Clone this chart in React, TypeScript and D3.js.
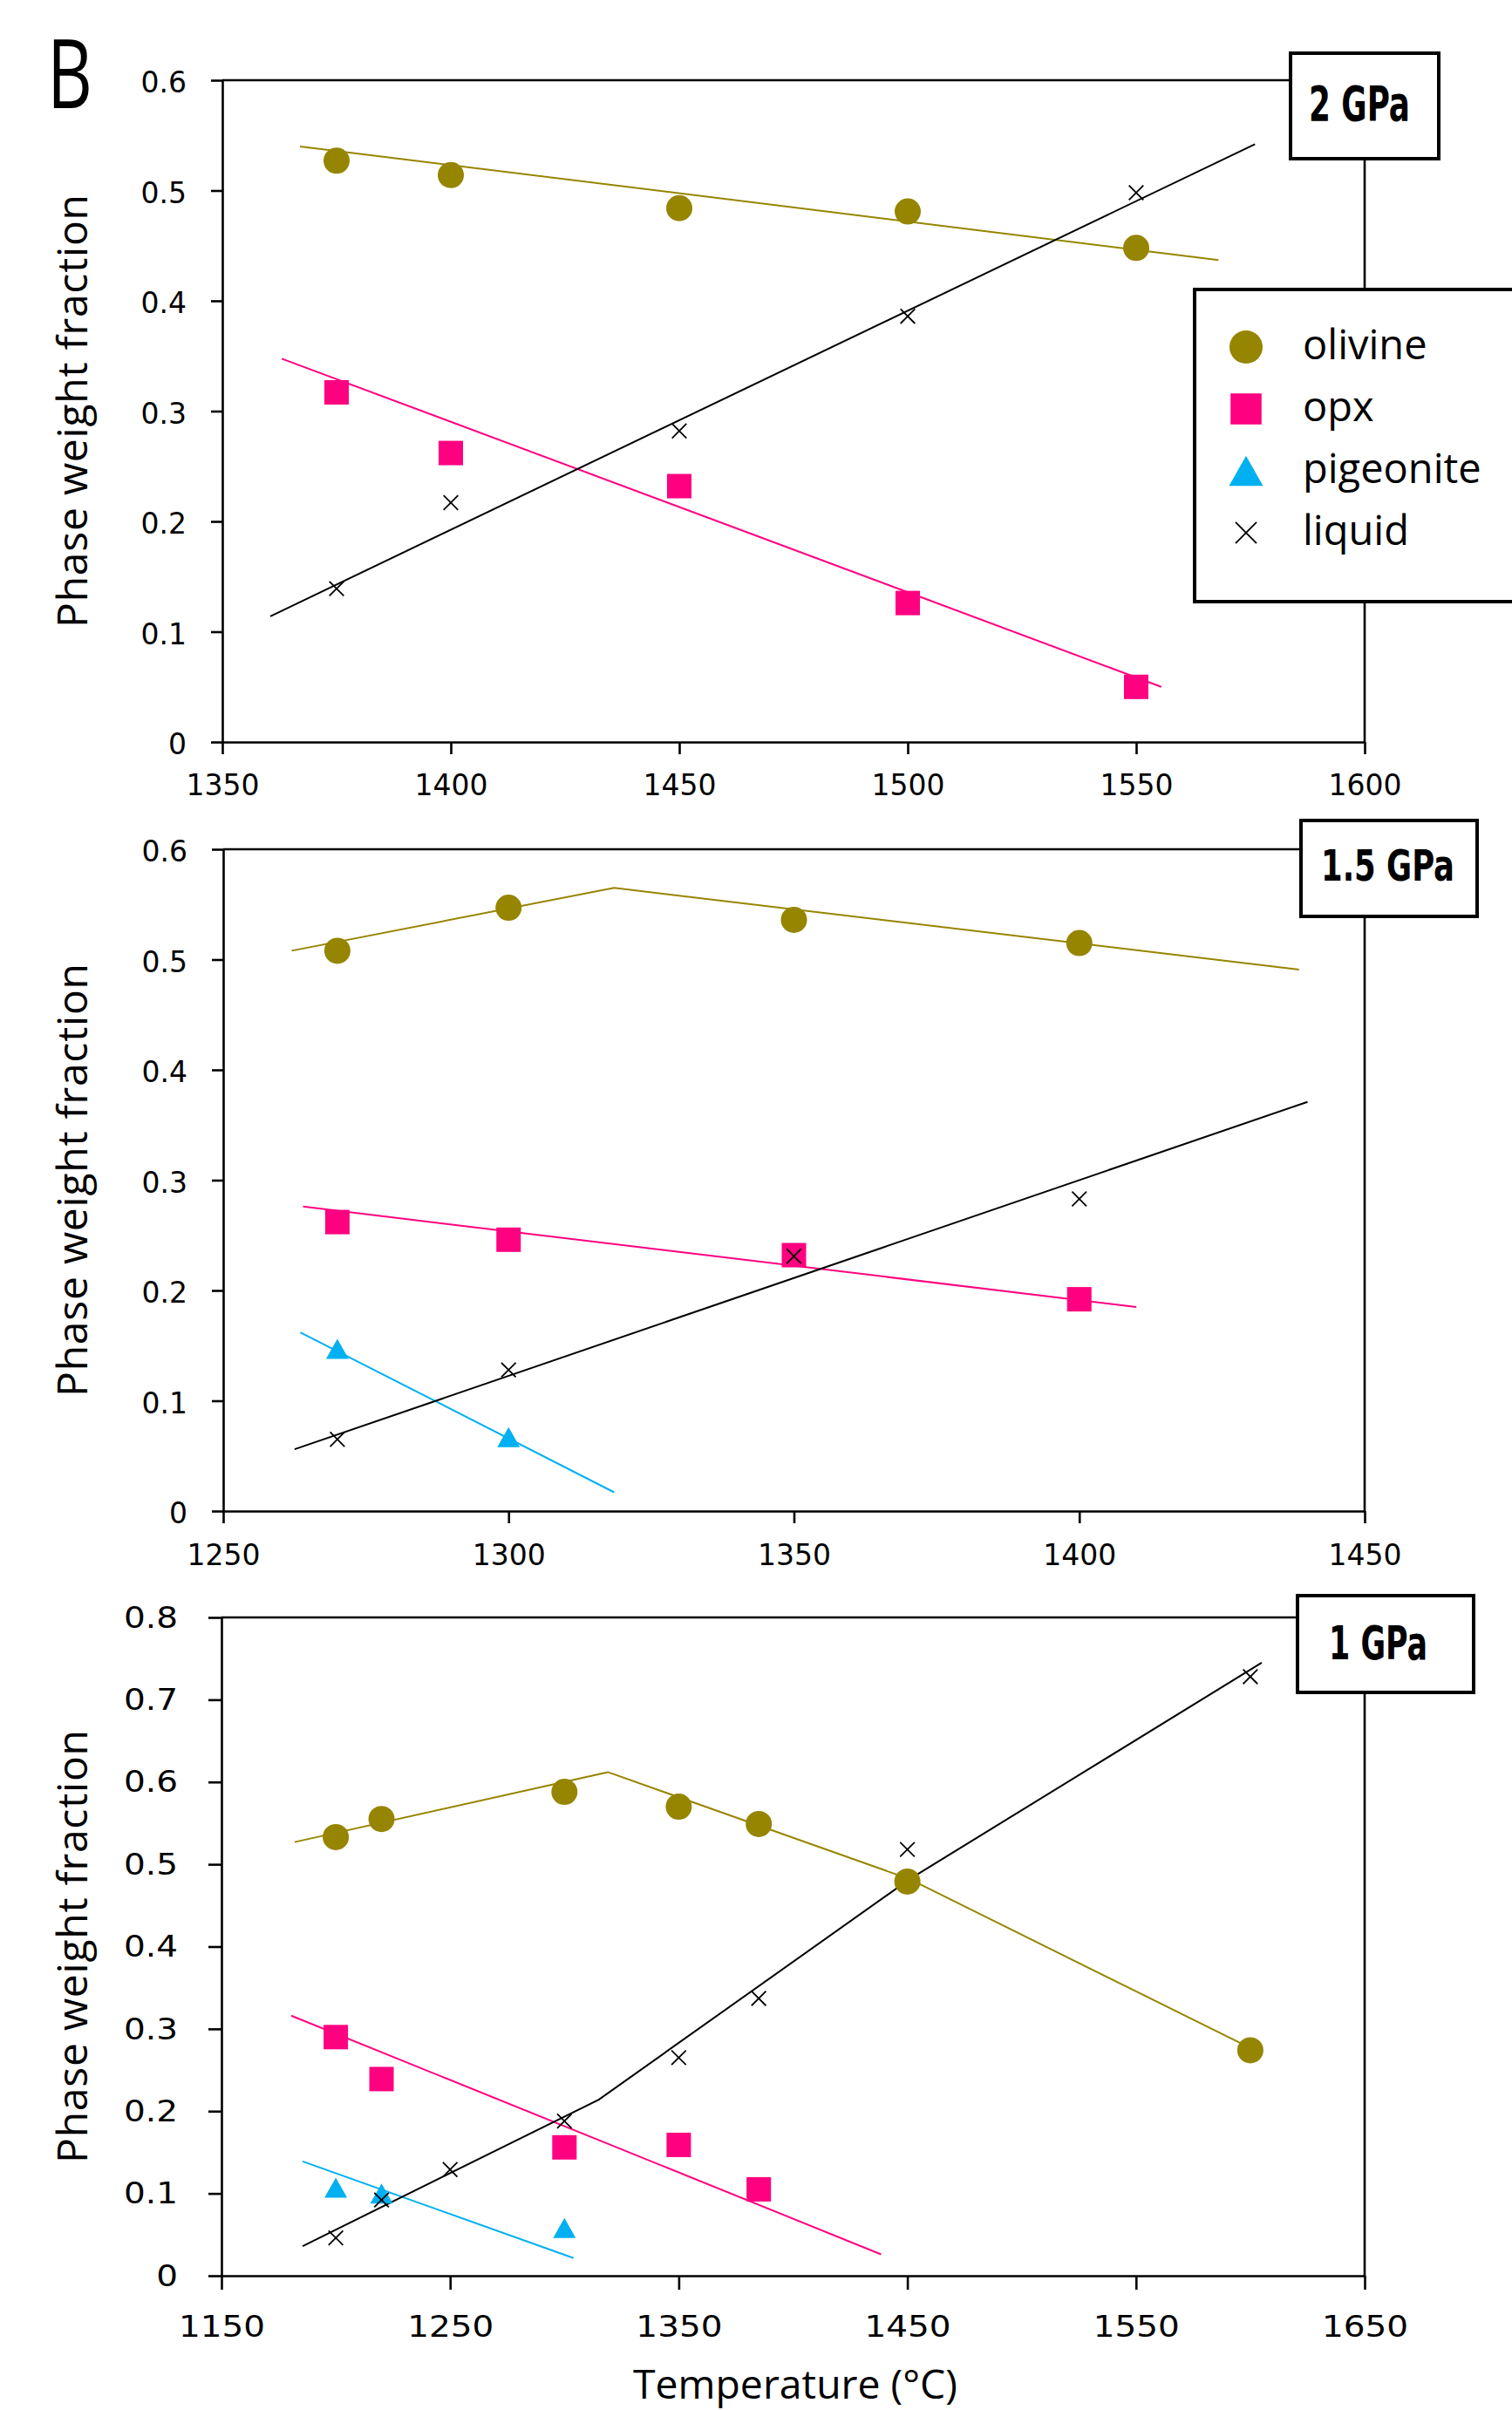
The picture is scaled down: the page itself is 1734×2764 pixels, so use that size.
import * as React from 'react';
import * as d3 from 'd3';

// ---- data ----
// 2 GPa
const temps2 = [1375, 1400, 1450, 1500, 1550];
const olivine2 = [0.527, 0.514, 0.484, 0.481, 0.448];
const opx2 = [0.317, 0.262, 0.232, 0.126, 0.050];
const liquid2 = [0.139, 0.217, 0.282, 0.386, 0.498];
const olivineFit2 = [[1367, 0.540], [1568, 0.437]];
const opxFit2 = [[1363, 0.3475], [1555.5, 0.050]];
const liquidFit2 = [[1360.5, 0.114], [1576, 0.542]];

// 1.5 GPa
const temps15 = [1270, 1300, 1350, 1400];
const olivine15 = [0.508, 0.547, 0.536, 0.515];
const opx15 = [0.262, 0.246, 0.232, 0.192];
const pigTemps15 = [1270, 1300];
const pigeonite15 = [0.147, 0.067];
const liquid15 = [0.065, 0.128, 0.231, 0.283];
const olivineFit15 = [[1262, 0.508], [1318.5, 0.565], [1438.5, 0.491]];
const opxFit15 = [[1264, 0.276], [1410, 0.185]];
const pigeoniteFit15 = [[1263.5, 0.162], [1318.5, 0.017]];
const liquidFit15 = [[1262.5, 0.056], [1440, 0.371]];

// 1 GPa
const olTemps1 = [1200, 1220, 1300, 1350, 1385, 1450, 1600];
const olivine1 = [0.533, 0.555, 0.588, 0.570, 0.549, 0.479, 0.274];
const opxTemps1 = [1200, 1220, 1300, 1350, 1385];
const opx1 = [0.290, 0.239, 0.156, 0.159, 0.105];
const pigTemps1 = [1200, 1220, 1300];
const pigeonite1 = [0.107, 0.100, 0.058];
const liqTemps1 = [1200, 1220, 1250, 1300, 1350, 1385, 1450, 1600];
const liquid1 = [0.046, 0.092, 0.129, 0.188, 0.265, 0.337, 0.518, 0.728];
const olivineFit1 = [[1182, 0.527], [1319, 0.612], [1451, 0.482], [1602, 0.274]];
const opxFit1 = [[1180.5, 0.316], [1438.5, 0.026]];
const pigeoniteFit1 = [[1185.5, 0.139], [1304, 0.0215]];
const liquidFit1 = [[1185.5, 0.036], [1315, 0.214], [1451, 0.482], [1605, 0.745]];

const phaseNames = ['olivine', 'opx', 'pigeonite', 'liquid'];

// ---- styles ----
const W = 1734;
const H = 2764;
const OLIVINE = '#968500';
const OPX = '#ff0080';
const PIG = '#00b0f0';
const colors: Record<string, string> = { olivine: OLIVINE, opx: OPX, pigeonite: PIG, liquid: '#000' };
const tickFont = '"DejaVu Sans", Verdana, sans-serif';
const textFont = '"Open Sans", "Noto Sans", sans-serif';
const boldFont = '"Liberation Sans Narrow", "DejaVu Sans Condensed", "Liberation Sans", sans-serif';

interface Series { phase: string; temps: number[]; values: number[]; fit: number[][] }

const panels = [
  {
    label: '2 GPa', frame: { left: 255, right: 1565, top: 92, bottom: 851 },
    xDomain: [1350, 1600], xStep: 50, yMax: 0.6,
    box: { x0: 1480, x1: 1650, y0: 61, y1: 182 }, labelPos: { x: 1501, y: 138, len: 116, size: 56 },
    stretch: 1, xTick: 14, xPad: 24, yTick: 13, yPad: 28,
    series: [
      { phase: 'olivine', temps: temps2, values: olivine2, fit: olivineFit2 },
      { phase: 'opx', temps: temps2, values: opx2, fit: opxFit2 },
      { phase: 'liquid', temps: temps2, values: liquid2, fit: liquidFit2 },
    ] as Series[],
  },
  {
    label: '1.5 GPa', frame: { left: 256, right: 1565, top: 974, bottom: 1733 },
    xDomain: [1250, 1450], xStep: 50, yMax: 0.6,
    box: { x0: 1492, x1: 1694, y0: 941, y1: 1051 }, labelPos: { x: 1515, y: 1010, len: 153, size: 49 },
    stretch: 1, xTick: 14, xPad: 25, yTick: 13, yPad: 28,
    series: [
      { phase: 'olivine', temps: temps15, values: olivine15, fit: olivineFit15 },
      { phase: 'opx', temps: temps15, values: opx15, fit: opxFit15 },
      { phase: 'pigeonite', temps: pigTemps15, values: pigeonite15, fit: pigeoniteFit15 },
      { phase: 'liquid', temps: temps15, values: liquid15, fit: liquidFit15 },
    ] as Series[],
  },
  {
    label: '1 GPa', frame: { left: 254, right: 1565, top: 1855, bottom: 2610 },
    xDomain: [1150, 1650], xStep: 100, yMax: 0.8,
    box: { x0: 1488, x1: 1690, y0: 1830, y1: 1941 }, labelPos: { x: 1524, y: 1903, len: 113, size: 53 },
    stretch: 1.18, xTick: 16, xPad: 31, yTick: 15, yPad: 27.4,
    series: [
      { phase: 'olivine', temps: olTemps1, values: olivine1, fit: olivineFit1 },
      { phase: 'opx', temps: opxTemps1, values: opx1, fit: opxFit1 },
      { phase: 'pigeonite', temps: pigTemps1, values: pigeonite1, fit: pigeoniteFit1 },
      { phase: 'liquid', temps: liqTemps1, values: liquid1, fit: liquidFit1 },
    ] as Series[],
  },
];

function drawMarker(g: any, phase: string, cx: number, cy: number, scale: number) {
  const c = colors[phase];
  if (phase === 'olivine') {
    g.append('circle').attr('cx', cx).attr('cy', cy).attr('r', 15 * scale).attr('fill', c);
  } else if (phase === 'opx') {
    const s = 28 * scale;
    g.append('rect').attr('x', cx - s / 2).attr('y', cy - s / 2).attr('width', s).attr('height', s).attr('fill', c);
  } else if (phase === 'pigeonite') {
    const w = 26 * scale, h = 23 * scale;
    g.append('path').attr('d', `M${cx},${cy - h / 2}L${cx + w / 2},${cy + h / 2}L${cx - w / 2},${cy + h / 2}Z`).attr('fill', c);
  } else {
    const r = 8.3 * scale;
    g.append('path')
      .attr('d', `M${cx - r},${cy - r}L${cx + r},${cy + r}M${cx - r},${cy + r}L${cx + r},${cy - r}`)
      .attr('stroke', '#000').attr('stroke-width', 1.8).attr('fill', 'none');
  }
}

function drawPanel(svg: any, p: typeof panels[number]) {
  const { left, right, top, bottom } = p.frame;
  const x = d3.scaleLinear().domain(p.xDomain).range([left, right]);
  const y = d3.scaleLinear().domain([0, p.yMax]).range([bottom, top]);
  const g = svg.append('g');

  // top + right frame
  g.append('path').attr('d', `M${left},${top}H${right}V${bottom}`)
    .attr('fill', 'none').attr('stroke', '#000').attr('stroke-width', 2.6);

  const xTicks = d3.range(p.xDomain[0], p.xDomain[1] + 1, p.xStep);
  const yTicks = d3.range(0, Math.round(p.yMax * 10) + 1).map((i) => i / 10);

  const xg = g.append('g').attr('transform', `translate(0,${bottom})`)
    .call(d3.axisBottom(x).tickValues(xTicks).tickSize(p.xTick).tickSizeOuter(0).tickPadding(p.xPad).tickFormat(d3.format('d')));
  const yg = g.append('g').attr('transform', `translate(${left},0)`)
    .call(d3.axisLeft(y).tickValues(yTicks).tickSize(p.yTick).tickSizeOuter(0).tickPadding(p.yPad)
      .tickFormat((d: any) => (d === 0 ? '0' : d3.format('.1f')(d))));

  [xg, yg].forEach((ax) => {
    ax.attr('font-size', 33).attr('font-family', tickFont);
    ax.selectAll('path, line').attr('stroke', '#000').attr('stroke-width', 2.6);
    ax.selectAll('text').attr('fill', '#000');
  });
  yg.selectAll('text').attr('dy', p.stretch === 1 ? '0.42em' : '0.34em');
  if (p.stretch !== 1) {
    xg.selectAll('text').attr('transform', `scale(${p.stretch},1)`);
    yg.selectAll('text').attr('transform', `scale(${p.stretch},1)`);
  }

  // fitted lines
  const line = d3.line<number[]>().x((d) => x(d[0])).y((d) => y(d[1]));
  p.series.forEach((s) => {
    g.append('path').attr('d', line(s.fit)).attr('fill', 'none')
      .attr('stroke', colors[s.phase]).attr('stroke-width', 2);
  });

  // markers
  p.series.forEach((s) => {
    s.temps.forEach((t, i) => drawMarker(g, s.phase, x(t), y(s.values[i]), 1));
  });

  // y title
  const cy = (top + bottom) / 2;
  g.append('text')
    .attr('transform', `translate(100,${cy}) rotate(-90)`)
    .attr('text-anchor', 'middle')
    .attr('font-family', textFont).attr('font-size', 48)
    .attr('textLength', 497).attr('lengthAdjust', 'spacing')
    .text('Phase weight fraction');

  // pressure label box
  g.append('rect').attr('x', p.box.x0).attr('y', p.box.y0)
    .attr('width', p.box.x1 - p.box.x0).attr('height', p.box.y1 - p.box.y0)
    .attr('fill', '#fff').attr('stroke', '#000').attr('stroke-width', 4);
  g.append('text').attr('x', p.labelPos.x).attr('y', p.labelPos.y)
    .attr('font-family', boldFont).attr('font-weight', 'bold').attr('font-size', p.labelPos.size)
    .attr('textLength', p.labelPos.len).attr('lengthAdjust', 'spacingAndGlyphs')
    .text(p.label);
}

export default function App() {
  const svgRef = React.useRef() as React.MutableRefObject<any>;

  React.useEffect(() => {
    const svg = d3.select(svgRef.current);
    svg.selectAll('*').remove();
    svg.append('rect').attr('width', W).attr('height', H).attr('fill', '#fff');

    panels.forEach((p) => drawPanel(svg, p));

    // legend (upper panel)
    const lg = svg.append('g');
    lg.append('rect').attr('x', 1370).attr('y', 332).attr('width', 400).attr('height', 358)
      .attr('fill', '#fff').attr('stroke', '#000').attr('stroke-width', 4);
    phaseNames.forEach((name, i) => {
      const base = 412 + i * 71;
      drawMarker(lg, name, 1429, base - 14, name === 'liquid' ? 1.45 : name === 'pigeonite' ? 1.5 : 1.27);
      lg.append('text').attr('x', 1494).attr('y', base)
        .attr('font-family', textFont).attr('font-size', 47).text(name);
    });

    // panel letter
    svg.append('text').attr('x', 54).attr('y', 124)
      .attr('font-family', textFont).attr('font-size', 110)
      .attr('textLength', 52).attr('lengthAdjust', 'spacingAndGlyphs').text('B');

    // x title
    svg.append('text').attr('x', 912).attr('y', 2751).attr('text-anchor', 'middle')
      .attr('font-family', textFont).attr('font-size', 46)
      .attr('textLength', 372).attr('lengthAdjust', 'spacingAndGlyphs')
      .text('Temperature (°C)');
  }, []);

  return (
    <svg ref={svgRef} width={W} height={H} style={{ position: 'absolute', left: 0, top: 0 }} />
  );
}
